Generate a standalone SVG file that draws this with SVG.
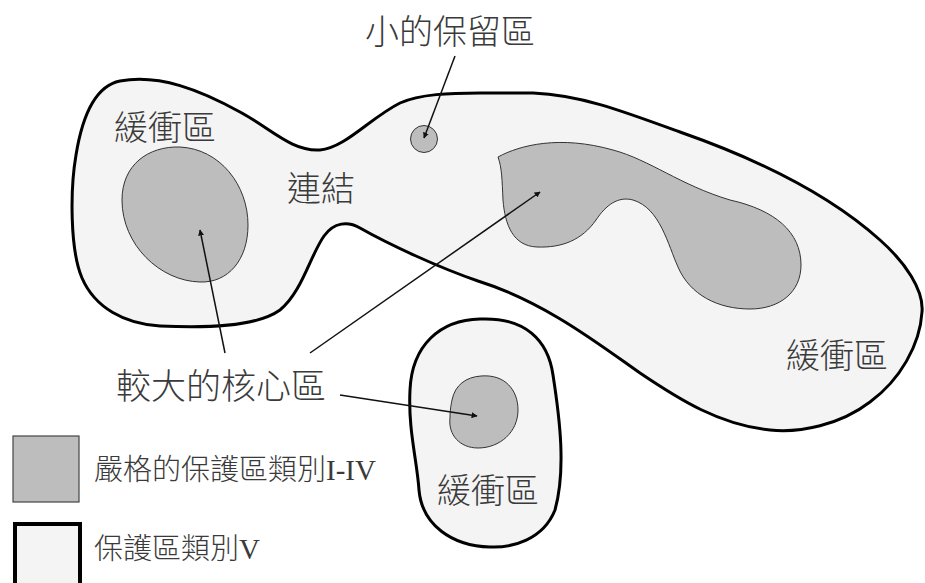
<svg xmlns="http://www.w3.org/2000/svg" width="925" height="583" viewBox="0 0 925 583">
<defs>
<marker id="ah" viewBox="0 0 10 10" refX="9" refY="5" markerWidth="6" markerHeight="6" orient="auto" markerUnits="userSpaceOnUse">
<path d="M0,0 L10,5 L0,10 Z" fill="#111"/>
</marker>
<style>
.zone{fill:#f4f4f4;stroke:#000;stroke-width:3}
.core{fill:#bdbdbd;stroke:#333;stroke-width:1}
.lbl{font-family:"Noto Sans CJK TC","Noto Sans CJK SC",sans-serif;fill:#3a3a3a;font-size:34px;font-weight:300}
.leg{font-family:"Liberation Serif","Noto Sans CJK TC",serif;fill:#3a3a3a;font-size:29px;font-weight:300}
.conn{stroke:#111;stroke-width:1.5;fill:none;marker-end:url(#ah)}
</style>
</defs>
<rect width="925" height="583" fill="#fff"/>
<g id="main-zone">
<path class="zone" d="M120,81 C160,74 200,90 240,112 C270,128 292,152 320,150 C345,148 370,118 400,103 C420,94 450,93 480,93 L533,93 C580,95 620,110 680,132 C760,160 830,195 880,240 C905,262 924,290 922,312 C920,345 900,380 870,402 C840,425 800,433 770,430 C720,425 680,400 640,373 C600,345 545,302 478,281 C440,268 390,245 360,228 C348,221 334,222 324,236 C310,256 302,292 280,310 C255,328 200,328 160,326 C125,324 95,308 82,278 C70,250 70,190 76,155 C82,118 95,86 120,81 Z"/>
</g>
<g id="left-core"><path class="core" d="M122,200 C122,165 148,146 180,147 C220,149 248,185 248,225 C248,260 228,283 200,282 C160,281 122,245 122,200 Z"/></g>
<g id="small-reserve"><ellipse class="core" cx="424" cy="139" rx="13.5" ry="13.5"/></g>
<g id="right-core"><path class="core" d="M498,157 C520,145 560,135 613,150 C650,160 680,185 730,200 C775,210 801,232 801,265 C801,292 780,309 750,309 C718,309 690,295 678,267 C668,245 660,208 633,200 C618,196 606,205 596,220 C582,240 562,248 537,247 C513,246 505,225 503,200 C502,180 502,168 498,157 Z"/></g>
<g id="bottom-zone"><path class="zone" d="M480,319 C525,317 548,340 553,375 C560,420 566,470 555,510 C543,540 512,548 490,547 C452,546 422,525 419,490 C417,460 408,430 410,390 C412,345 440,320 480,319 Z"/></g>
<g id="bottom-core"><path class="core" d="M452,400 C455,385 466,377 481,376 C505,374 518,390 518,410 C518,432 500,448 478,448 C460,448 448,435 450,418 C450,410 451,405 452,400 Z"/></g>
<g id="connectors">
<line class="conn" x1="455" y1="56" x2="424" y2="138"/>
<line class="conn" x1="225" y1="353" x2="200" y2="230"/>
<line class="conn" x1="310" y1="353" x2="540" y2="192"/>
<line class="conn" x1="340" y1="395" x2="477" y2="416"/>
</g>
<g id="labels">
<text class="lbl" x="365" y="44">小的保留區</text>
<text class="lbl" x="114" y="140">緩衝區</text>
<text class="lbl" x="287" y="201">連結</text>
<text class="lbl" x="786" y="368">緩衝區</text>
<text class="lbl" x="116" y="399" style="font-size:35px">較大的核心區</text>
<text class="lbl" x="437" y="503">緩衝區</text>
</g>
<g id="legend">
<rect x="13" y="436" width="66" height="66" fill="#bdbdbd" stroke="#444" stroke-width="1.2"/>
<text class="leg" x="94" y="480">嚴格的保護區類別I-IV</text>
<rect x="15" y="524" width="65" height="75" fill="#f4f4f4" stroke="#000" stroke-width="4"/>
<text class="leg" x="94" y="559">保護區類別V</text>
</g>
</svg>
